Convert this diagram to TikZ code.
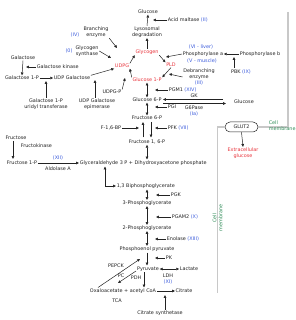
\documentclass[tikz,border=0pt]{standalone}
\usepackage{fontspec}
\setmainfont{DejaVu Sans}
\usetikzlibrary{arrows.meta}
\definecolor{myred}{HTML}{E8343C}
\definecolor{myblue}{HTML}{3B5BDB}
\definecolor{mygreen}{HTML}{2E8B57}
\definecolor{membc}{HTML}{C8C8C8}
\definecolor{ink}{HTML}{222222}
\begin{document}
\begin{tikzpicture}[x=1pt,y=-1pt,
 every node/.style={font=\fontsize{4.9}{6}\selectfont,text=ink,inner sep=0.6pt,align=center},
 arr/.style={draw=ink,line width=0.5pt,-{Triangle[length=2.8pt,width=2.6pt]}},
 darr/.style={draw=ink,line width=0.5pt,{Triangle[length=2.8pt,width=2.6pt]}-{Triangle[length=2.8pt,width=2.6pt]}},
 rd/.style={text=myred}, gn/.style={text=mygreen},
 memb/.style={draw=membc,line width=1.2pt}]
\useasboundingbox (0,0) rectangle (295,320);
% ---- membrane
\node[draw=ink,line width=0.5pt,rounded corners=5pt,minimum width=33pt,minimum height=10pt,inner sep=0pt] (glut) at (241.5,127) {GLUT2};
\draw[memb] (288,12) -- (288,127) -- (glut.east);
\draw[memb] (glut.west) -- (217.5,127) -- (217.5,293);
\node[gn,align=left,anchor=west] (cm1) at (268,126) {Cell\\membrane};
\node[gn,rotate=90] (cm2) at (217.5,218) {Cell\\membrane};
\node[rd] (extra) at (243,153) {Extracellular\\glucose};
\draw[arr] (glut.south) -- (extra.north);
% ---- top
\node (gtop) at (148,12) {Glucose};
\node[anchor=west] (acid) at (167,20) {Acid maltase \textcolor{myblue}{(II)}};
\coordinate (cacid) at (153,20);
\draw[arr] (acid.west) -- (cacid);
\node (lyso) at (147,32) {Lysosomal\\degradation};
\draw[arr] (lyso.north) -- (gtop.south);
\node[rd] (gly) at (147,52) {Glycogen};
\draw[arr] (gly.north) -- (lyso.south);
\node (branch) at (96,32) {Branching\\enzyme};
\node[text=myblue] (iv) at (75,35) {(IV)};
\node (gsyn) at (87,51) {Glycogen\\synthase};
\node[text=myblue] (o) at (69,51) {(0)};
\node[rd] (udpg) at (122,66) {UDPG};
\draw[arr] (udpg.north east) -- (gly.south west);
\coordinate (cbr) at (117,48);
\coordinate (cgs) at (111,58);
\draw[arr] (branch.south east) -- (cbr);
\draw[arr] (gsyn.east) -- (cgs);
% ---- phosphorylase
\node[rd] (pld) at (171,65) {PLD};
\draw[arr] (gly.south east) -- (pld.north west);
\node[text=myblue] (vi) at (201,47) {(VI - liver)};
\node (pha) at (203,54) {Phosphorylase a};
\node[text=myblue] (vm) at (202,61) {(V - muscle)};
\node (phb) at (260,54) {Phosphorylase b};
\draw[arr] (phb.west) -- (pha.east);
\coordinate (cpha) at (166,57);
\draw[arr] (pha.west) -- (cpha);
\node (pbk) at (241,72) {PBK \textcolor{myblue}{(IX)}};
\coordinate (pbk1) at (234,68);
\coordinate (cpbk) at (234,57);
\draw[arr] (pbk1) -- (cpbk);
\node (debr) at (199,77) {Debranching\\enzyme\\\textcolor{myblue}{(III)}};
\node[rd] (g1p) at (147,80) {Glucose 1-P};
\draw[arr] (pld.south) -- (g1p.north east);
\coordinate (cdeb) at (169,74);
\draw[arr] (debr.west) -- (cdeb);
\draw[arr] (g1p.north west) -- (udpg.south east);
\node (udpgp) at (112,92) {UDPG-P};
\coordinate (cup) at (125,78);
\draw[arr] (udpgp.north east) -- (cup);
% ---- galactose
\node (gal) at (23,58) {Galactose};
\node (gal1p) at (22,78) {Galactose 1-P};
\draw[arr] (gal.south) -- (gal1p.north);
\node[anchor=west] (galk) at (36,67) {Galactose kinase};
\coordinate (cgalk) at (26,67);
\draw[arr] (galk.west) -- (cgalk);
\node (udpgal) at (72,78) {UDP Galactose};
\draw[arr] (gal1p.east) -- (udpgal.west);
\draw[arr] (udpgal.north east) -- (udpg.south west);
\node (urid) at (46,104) {Galactose 1-P\\uridyl transferase};
\coordinate (curid) at (46,81);
\draw[arr] (urid.north) -- (curid);
\node (epim) at (97,104) {UDP Galactose\\epimerase};
\coordinate (cepim) at (95,80);
\draw[arr] (epim.north -| cepim) -- (cepim);
% ---- glucose 6-P
\node (pgm) [anchor=west] at (168,90) {PGM1 \textcolor{myblue}{(XIV)}};
\coordinate (cpgm) at (155,90);
\draw[arr] (pgm.west) -- (cpgm);
\node (g6p) at (147,100) {Glucose 6-P};
\draw[darr] (g1p.south) -- (g6p.north);
\node (glcR) at (244,102) {Glucose};
\coordinate (gkA) at (223,99.5);
\coordinate (gkB) at (163,99.5);
\coordinate (gpA) at (163,103.5);
\coordinate (gpB) at (226,103.5);
\draw[arr] (gkA) -- (gkB);
\draw[arr] (gpA) -- (gpB);
\node (gk) at (194,95.5) {GK};
\node (g6pase) at (194,111) {G6Pase\\\textcolor{myblue}{(Ia)}};
% ---- fructose 6-P
\node (f6p) at (147,118) {Fructose 6-P};
\draw[darr] (g6p.south) -- (f6p.north);
\node[anchor=west] (pgi) at (167,107) {PGI};
\coordinate (cpgi) at (155,107);
\draw[arr] (pgi.west) -- (cpgi);
\node (f16p) at (147,142) {Fructose 1, 6-P};
\coordinate (upA) at (143,137.5);
\coordinate (upB) at (143,122);
\coordinate (dnA) at (151,122);
\coordinate (dnB) at (151,137.5);
\draw[arr] (upA) -- (upB);
\draw[arr] (dnA) -- (dnB);
\node (fbp) at (111,128) {F-1,6-BP};
\coordinate (cfbp) at (139,128);
\draw[arr] (fbp.east) -- (cfbp);
\node[anchor=west] (pfk) at (167,128) {PFK \textcolor{myblue}{(VII)}};
\coordinate (cpfk) at (155,128);
\draw[arr] (pfk.west) -- (cpfk);
% ---- fructose
\node (fru) at (16,138) {Fructose};
\node[anchor=west] (fruk) at (20,145.5) {Fructokinase};
\node (fru1p) at (22,163) {Fructose 1-P};
\coordinate (fa1) at (13,141);
\coordinate (fa2) at (13,159);
\draw[arr] (fa1) -- (fa2);
\node[anchor=west] (gap) at (79,163) {Glyceraldehyde 3 P + Dihydroxyacetone phosphate};
\draw[arr] (fru1p.east) -- (gap.west);
\node[text=myblue] (xii) at (58,157.5) {(XII)};
\node (aldo) at (58,169) {Aldolase A};
\coordinate (gapT) at (147,159.5);
\draw[darr] (f16p.south) -- (gapT);
% ---- lower glycolysis
\node[anchor=west] (bpg) at (116,186) {1,3 Biphosphoglycerate};
\coordinate (lA) at (105,166.5);
\coordinate (lB) at (105,186);
\draw[darr] (lA) -- (lB) -- (bpg.west);
\node (pg3) at (147,203) {3-Phosphoglycerate};
\coordinate (bpgB) at (147,189.5);
\draw[darr] (bpgB) -- (pg3.north);
\node[anchor=west] (pgk) at (170,195) {PGK};
\coordinate (cpgk) at (156,195);
\draw[arr] (pgk.west) -- (cpgk);
\node (pg2) at (147,228) {2-Phosphoglycerate};
\draw[darr] (pg3.south) -- (pg2.north);
\node[anchor=west] (pgam) at (171,217) {PGAM2 \textcolor{myblue}{(X)}};
\coordinate (cpgam) at (156,217);
\draw[arr] (pgam.west) -- (cpgam);
\node (pep) at (147,249) {Phosphoenol pyruvate};
\draw[darr] (pg2.south) -- (pep.north);
\node[anchor=west] (eno) at (166,239) {Enolase \textcolor{myblue}{(XIII)}};
\coordinate (ceno) at (155,239);
\draw[arr] (eno.west) -- (ceno);
\node (pyr) at (148,269) {Pyruvate};
\coordinate (pepB) at (147,252.5);
\coordinate (pyrT) at (147,265.5);
\draw[arr] (pepB) -- (pyrT);
\node[anchor=west] (pk) at (165,258) {PK};
\coordinate (cpk) at (155,258);
\draw[arr] (pk.west) -- (cpk);
\node (lac) at (189,269) {Lactate};
\draw[darr] (pyr.east) -- (lac.west);
\node (ldh) at (168,279) {LDH\\\textcolor{myblue}{(XI)}};
\node (oaa) at (123,291) {Oxaloacetate + acetyl CoA};
\node (cit) at (184,291) {Citrate};
\draw[arr] (oaa.east) -- (cit.west);
\coordinate (pepck1) at (98,287.5);
\coordinate (pepck2) at (140,259);
\draw[arr] (pepck1) -- (pepck2);
\node (pepck) at (116,266) {PEPCK};
\coordinate (pc1) at (136,271);
\coordinate (pc2) at (118,283);
\draw[arr] (pc1) -- (pc2);
\node (pc) at (121,276) {PC};
\coordinate (pdh1) at (144,272);
\coordinate (pdh2) at (144,287.5);
\draw[arr] (pdh1) -- (pdh2);
\node (pdh) at (136,278) {PDH};
\node (tca) at (117,301) {TCA};
\node (cs) at (160,313) {Citrate synthetase};
\coordinate (cs1) at (165,309.5);
\coordinate (cs2) at (165,295);
\draw[arr] (cs1) -- (cs2);
\end{tikzpicture}
\end{document}
